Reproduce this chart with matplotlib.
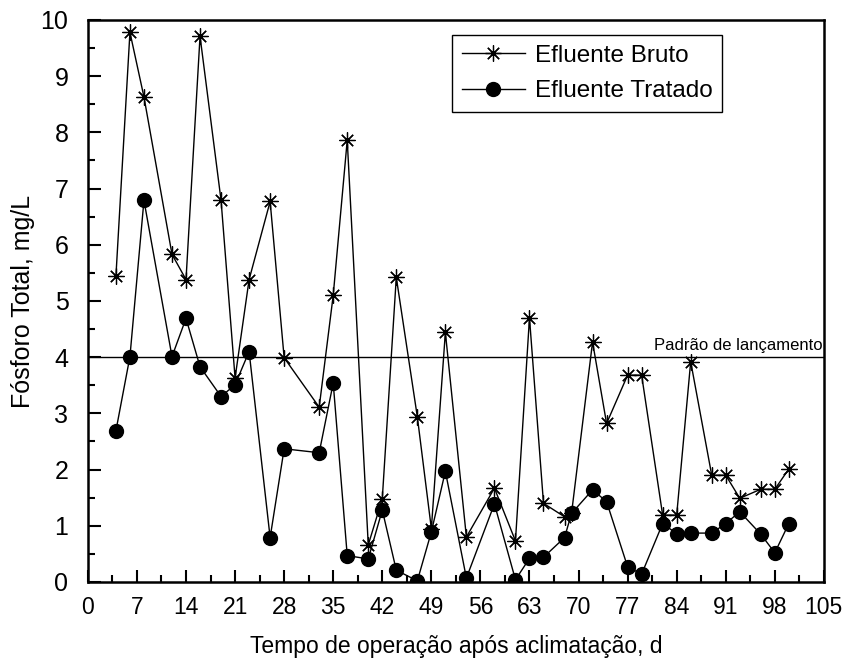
import matplotlib.pyplot as plt
from matplotlib.ticker import MultipleLocator

plt.rcParams['font.family'] = ['Liberation Sans', 'DejaVu Sans']

# Dias de operação e fósforo total (mg/L)
dias_bruto = [4, 6, 8, 12, 14, 16, 19, 21, 23, 26, 28, 33, 35, 37, 40, 42, 44, 47, 49, 51,
              54, 58, 61, 63, 65, 68, 69, 72, 74, 77, 79, 82, 84, 86, 89, 91, 93, 96, 98, 100]
bruto = [5.44, 9.78, 8.63, 5.83, 5.38, 9.71, 6.79, 3.63, 5.38, 6.77, 3.99, 3.11, 5.10, 7.86, 0.66,
         1.48, 5.42, 2.94, 0.95, 4.44, 0.80, 1.67, 0.73, 4.70, 1.40, 1.16, 1.22, 4.27, 2.82, 3.68,
         3.68, 1.19, 1.19, 3.92, 1.90, 1.90, 1.49, 1.65, 1.65, 2.01]

dias_tratado = [4, 6, 8, 12, 14, 16, 19, 21, 23, 26, 28, 33, 35, 37, 40, 42, 44, 47, 49, 51,
                54, 58, 61, 63, 65, 68, 69, 72, 74, 77, 79, 82, 84, 86, 89, 91, 93, 96, 98, 100]
tratado = [2.69, 4.01, 6.79, 4.01, 4.69, 3.83, 3.30, 3.51, 4.10, 0.79, 2.37, 2.30, 3.54, 0.47, 0.41,
           1.28, 0.21, 0.02, 0.89, 1.97, 0.07, 1.39, 0.04, 0.42, 0.44, 0.79, 1.22, 1.64, 1.43, 0.27,
           0.14, 1.04, 0.86, 0.87, 0.87, 1.04, 1.25, 0.85, 0.52, 1.04]

# Padrão de lançamento
padrao = 4.0


def main():
    fig = plt.figure(figsize=(8.45, 6.64), dpi=100)
    ax = fig.add_axes([0.104, 0.1235, 0.871, 0.8465])

    ax.plot(dias_bruto, bruto, color='black', lw=1, marker=(8, 2, 0), ms=11.5,
            mew=0.9, label='Efluente Bruto')
    ax.plot(dias_tratado, tratado, color='black', lw=1, marker='o', ms=10,
            label='Efluente Tratado')
    ax.axhline(padrao, color='black', lw=1)
    ax.text(104.8, padrao + 0.08, 'Padrão de lançamento', ha='right', va='bottom', fontsize=12)

    ax.set_xlim(0, 105)
    ax.set_ylim(0, 10)
    ax.xaxis.set_major_locator(MultipleLocator(7))
    ax.xaxis.set_minor_locator(MultipleLocator(3.5))
    ax.yaxis.set_major_locator(MultipleLocator(1))
    ax.yaxis.set_minor_locator(MultipleLocator(0.5))
    ax.tick_params(which='both', direction='in', width=1.5)
    ax.tick_params(which='major', length=9)
    ax.tick_params(which='minor', length=5)
    ax.tick_params(axis='x', pad=10, labelsize=16.5)
    ax.tick_params(axis='y', pad=14, labelsize=18)
    for s in ax.spines.values():
        s.set_linewidth(1.8)

    ax.set_xlabel('Tempo de operação após aclimatação, d', fontsize=16.5)
    ax.xaxis.set_label_coords(0.5, -0.095)
    ax.set_ylabel('Fósforo Total, mg/L', fontsize=18)
    ax.yaxis.set_label_coords(-0.072, 0.5)

    leg = ax.legend(loc='upper left', bbox_to_anchor=(0.4946, 0.973), borderaxespad=0,
                    fontsize=17.5, fancybox=False, framealpha=1, edgecolor='black',
                    handlelength=2.6, borderpad=0.4, labelspacing=0.55, handletextpad=0.4)
    leg.get_frame().set_linewidth(1)

    fig.savefig('out.png', dpi=100)


if __name__ == '__main__':
    main()
